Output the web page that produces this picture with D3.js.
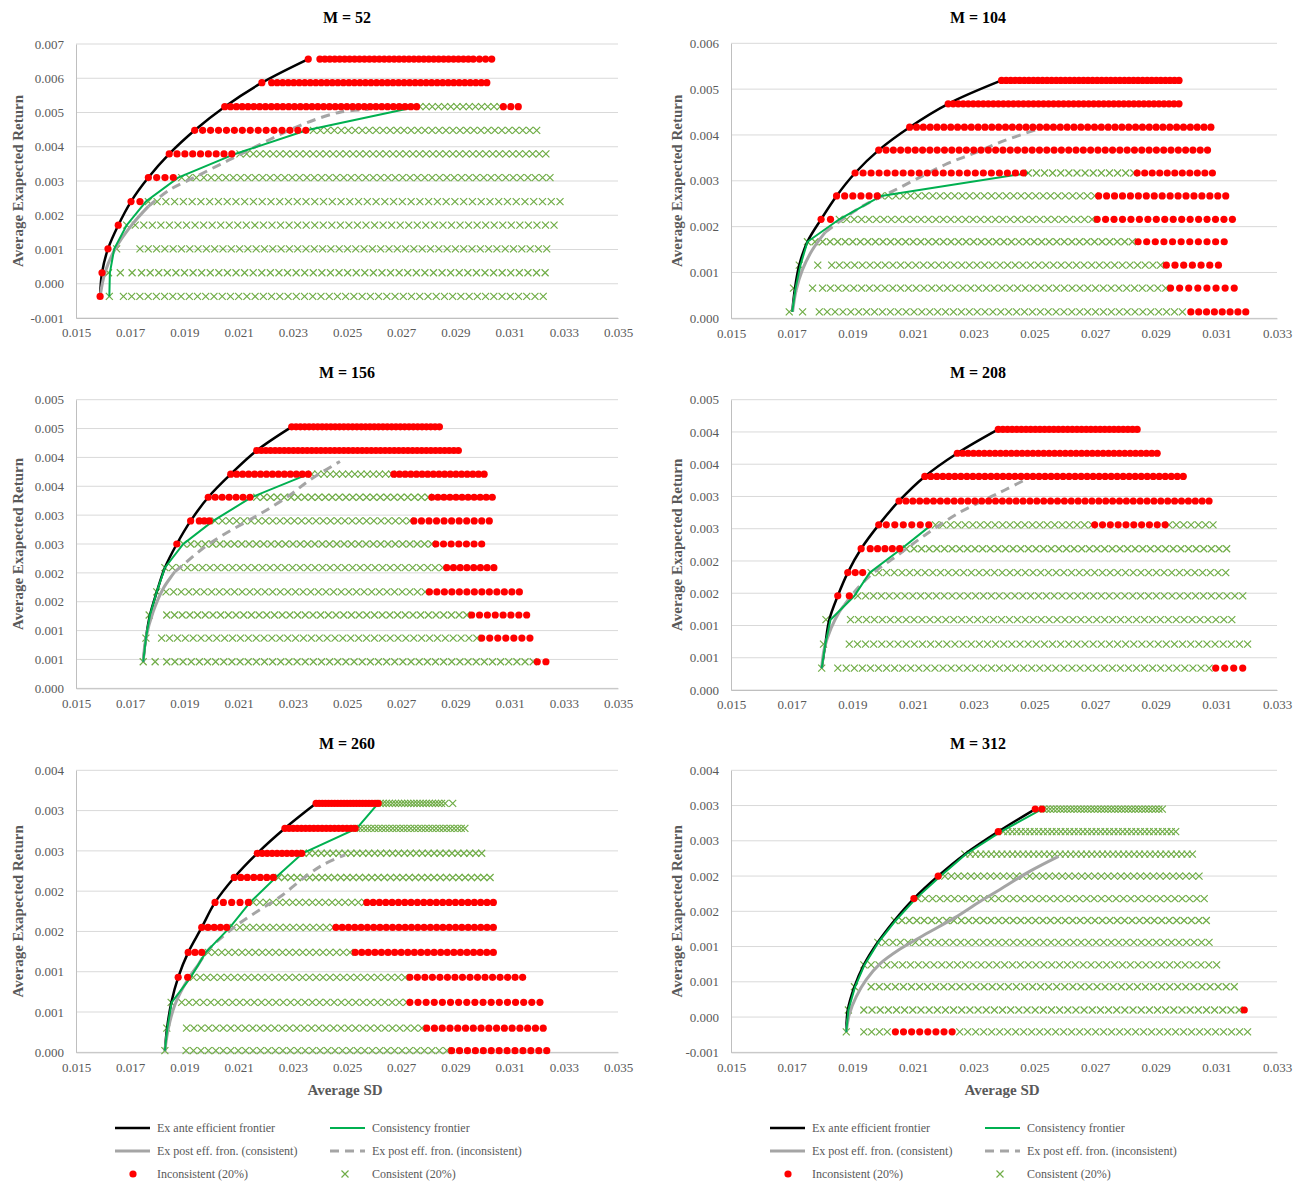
<!DOCTYPE html>
<html>
<head>
<meta charset="utf-8">
<script src="https://cdn.jsdelivr.net/npm/d3@7"></script>
<style>
  body { margin: 0; background: #fff; }
  svg text { font-family: "Liberation Serif", "Times New Roman", serif; }
</style>
</head>
<body>
<svg id="chart" width="1307" height="1184"></svg>
<script>
'use strict';

// ── Axis ticks ────────────────────────────────────────────
const xTicksWide   = [0.015, 0.017, 0.019, 0.021, 0.023, 0.025, 0.027, 0.029, 0.031, 0.033, 0.035];
const xTicksNarrow = [0.015, 0.017, 0.019, 0.021, 0.023, 0.025, 0.027, 0.029, 0.031, 0.033];

const yTicks52  = [-0.001, 0, 0.001, 0.002, 0.003, 0.004, 0.005, 0.006, 0.007];
const yLabels52 = ['-0.001', '0.000', '0.001', '0.002', '0.003', '0.004', '0.005', '0.006', '0.007'];
const yTicks104  = [0, 0.001, 0.002, 0.003, 0.004, 0.005, 0.006];
const yLabels104 = ['0.000', '0.001', '0.002', '0.003', '0.004', '0.005', '0.006'];
const yTicks156  = [0, 0.0005, 0.001, 0.0015, 0.002, 0.0025, 0.003, 0.0035, 0.004, 0.0045, 0.005];
const yLabels156 = ['0.000', '0.001', '0.001', '0.002', '0.002', '0.003', '0.003', '0.004', '0.004', '0.005', '0.005'];
const yTicks208  = [0, 0.0005, 0.001, 0.0015, 0.002, 0.0025, 0.003, 0.0035, 0.004, 0.0045];
const yLabels208 = ['0.000', '0.001', '0.001', '0.002', '0.002', '0.003', '0.003', '0.004', '0.004', '0.005'];
const yTicks260  = [0, 0.0005, 0.001, 0.0015, 0.002, 0.0025, 0.003, 0.0035];
const yLabels260 = ['0.000', '0.001', '0.001', '0.002', '0.002', '0.003', '0.003', '0.004'];
const yTicks312  = [-0.0005, 0, 0.0005, 0.001, 0.0015, 0.002, 0.0025, 0.003, 0.0035];
const yLabels312 = ['-0.001', '0.000', '0.001', '0.001', '0.002', '0.002', '0.003', '0.003', '0.004'];

// ── Portfolio rows: [return, [[type, sdFrom, sdTo, markerCount], ...]]
//    type 'i' = inconsistent (red dot), 'c' = consistent (green cross)
const rows52 = [
  [-0.00037, [['i', 0.01589, 0.01589, 1], ['c', 0.01623, 0.01623, 1], ['c', 0.01675, 0.03224, 52]]],
  [0.00032,  [['i', 0.01596, 0.01596, 1], ['c', 0.01620, 0.01707, 3], ['c', 0.01742, 0.03231, 48]]],
  [0.00102,  [['i', 0.01618, 0.01618, 1], ['c', 0.01650, 0.01650, 1], ['c', 0.01736, 0.03237, 50]]],
  [0.00171,  [['i', 0.01656, 0.01656, 1], ['c', 0.01687, 0.03264, 51]]],
  [0.00240,  [['i', 0.01703, 0.01736, 2], ['c', 0.01767, 0.03286, 48]]],
  [0.00310,  [['i', 0.01767, 0.01859, 4], ['c', 0.01890, 0.03249, 51]]],
  [0.00379,  [['i', 0.01844, 0.02075, 9], ['c', 0.02105, 0.03234, 47]]],
  [0.00448,  [['i', 0.01938, 0.02348, 15], ['c', 0.02376, 0.03200, 33]]],
  [0.00517,  [['i', 0.02049, 0.02757, 34], ['c', 0.02769, 0.03065, 14], ['i', 0.03077, 0.03132, 3]]],
  [0.00587,  [['i', 0.02186, 0.02186, 1], ['i', 0.02222, 0.03016, 40]]],
  [0.00656,  [['i', 0.02357, 0.02357, 1], ['i', 0.02400, 0.02948, 31], ['i', 0.02966, 0.03034, 4]]]
];
const rows104 = [
  [0.00014, [['c', 0.01692, 0.01736, 2], ['c', 0.01791, 0.02988, 47], ['i', 0.03016, 0.03197, 8]]],
  [0.00066, [['c', 0.01706, 0.01706, 1], ['c', 0.01769, 0.01769, 1], ['c', 0.01802, 0.02933, 45], ['i', 0.02949, 0.03159, 8]]],
  [0.00116, [['c', 0.01725, 0.01725, 1], ['c', 0.01786, 0.01786, 1], ['c', 0.01832, 0.02916, 44], ['i', 0.02935, 0.03107, 7]]],
  [0.00167, [['c', 0.01752, 0.02823, 44], ['i', 0.02842, 0.03126, 11]]],
  [0.00216, [['i', 0.01797, 0.01828, 2], ['c', 0.01857, 0.02690, 35], ['i', 0.02707, 0.03153, 17]]],
  [0.00267, [['i', 0.01848, 0.01982, 6], ['c', 0.01995, 0.02699, 30], ['i', 0.02712, 0.03131, 17]]],
  [0.00317, [['i', 0.01909, 0.02464, 22], ['c', 0.02480, 0.02828, 14], ['i', 0.02839, 0.03087, 11]]],
  [0.00367, [['i', 0.01987, 0.03071, 46]]],
  [0.00417, [['i', 0.02089, 0.03082, 45]]],
  [0.00468, [['i', 0.02216, 0.02977, 47]]],
  [0.00519, [['i', 0.02392, 0.02977, 40]]]
];
const rows156 = [
  [0.00046, [['c', 0.01748, 0.01792, 2], ['c', 0.01835, 0.03187, 46], ['i', 0.03202, 0.03234, 2]]],
  [0.00087, [['c', 0.01758, 0.01758, 1], ['c', 0.01816, 0.02979, 41], ['i', 0.02997, 0.03175, 7]]],
  [0.00127, [['c', 0.01770, 0.01770, 1], ['c', 0.01835, 0.02942, 40], ['i', 0.02960, 0.03163, 8]]],
  [0.00167, [['c', 0.01798, 0.01798, 1], ['c', 0.01832, 0.02788, 35], ['i', 0.02804, 0.03136, 13]]],
  [0.00209, [['c', 0.01828, 0.02853, 38], ['i', 0.02868, 0.03042, 8]]],
  [0.00250, [['i', 0.01872, 0.01872, 1], ['c', 0.01896, 0.02813, 35], ['i', 0.02828, 0.02997, 7]]],
  [0.00290, [['i', 0.01923, 0.01923, 1], ['i', 0.01955, 0.01992, 3], ['c', 0.02013, 0.02732, 28], ['i', 0.02747, 0.03025, 11]]],
  [0.00331, [['i', 0.01988, 0.02142, 7], ['c', 0.02167, 0.02800, 26], ['i', 0.02813, 0.03036, 11]]],
  [0.00371, [['i', 0.02071, 0.02357, 14], ['c', 0.02370, 0.02665, 14], ['i', 0.02673, 0.03006, 17]]],
  [0.00412, [['i', 0.02167, 0.02911, 45]]],
  [0.00453, [['i', 0.02296, 0.02841, 35]]]
];
const rows208 = [
  [0.00034, [['c', 0.01799, 0.01799, 1], ['c', 0.01852, 0.01852, 1], ['c', 0.01880, 0.03076, 46], ['i', 0.03098, 0.03187, 4]]],
  [0.00071, [['c', 0.01805, 0.01805, 1], ['c', 0.01890, 0.03203, 50]]],
  [0.00109, [['c', 0.01813, 0.01813, 1], ['c', 0.01894, 0.03151, 49]]],
  [0.00146, [['i', 0.01852, 0.01852, 1], ['i', 0.01890, 0.01890, 1], ['c', 0.01918, 0.03187, 50]]],
  [0.00182, [['i', 0.01885, 0.01934, 3], ['c', 0.01962, 0.03131, 47]]],
  [0.00219, [['i', 0.01929, 0.01929, 1], ['i', 0.01959, 0.02056, 5], ['c', 0.02078, 0.03134, 43]]],
  [0.00256, [['i', 0.01987, 0.01987, 1], ['i', 0.02012, 0.02152, 6], ['c', 0.02174, 0.02690, 22], ['i', 0.02699, 0.02931, 10], ['c', 0.02944, 0.03089, 7]]],
  [0.00293, [['i', 0.02054, 0.03076, 46]]],
  [0.00331, [['i', 0.02139, 0.02991, 44]]],
  [0.00367, [['i', 0.02246, 0.02905, 38]]],
  [0.00404, [['i', 0.02381, 0.02839, 31]]]
];
const rows260 = [
  [0.00002, [['c', 0.01828, 0.01828, 1], ['c', 0.01906, 0.02868, 36], ['i', 0.02886, 0.03237, 13]]],
  [0.00030, [['c', 0.01835, 0.01835, 1], ['c', 0.01908, 0.02776, 33], ['i', 0.02794, 0.03224, 16]]],
  [0.00062, [['c', 0.01851, 0.01851, 1], ['c', 0.01890, 0.02720, 32], ['i', 0.02732, 0.03212, 17]]],
  [0.00093, [['i', 0.01877, 0.01912, 2], ['c', 0.01933, 0.02714, 32], ['i', 0.02732, 0.03148, 16]]],
  [0.00124, [['i', 0.01914, 0.01964, 3], ['c', 0.01988, 0.02511, 22], ['i', 0.02530, 0.03040, 22]]],
  [0.00155, [['i', 0.01964, 0.02056, 5], ['c', 0.02080, 0.02449, 16], ['i', 0.02459, 0.03040, 26]]],
  [0.00186, [['i', 0.02013, 0.02136, 5], ['c', 0.02154, 0.02566, 18], ['i', 0.02573, 0.03040, 21]]],
  [0.00217, [['i', 0.02084, 0.02228, 7], ['c', 0.02247, 0.03028, 35]]],
  [0.00247, [['i', 0.02169, 0.02333, 10], ['c', 0.02339, 0.02997, 31]]],
  [0.00278, [['i', 0.02271, 0.02530, 18], ['c', 0.02536, 0.02935, 31]]],
  [0.00309, [['i', 0.02386, 0.02615, 21], ['c', 0.02622, 0.02849, 21], ['c', 0.02862, 0.02890, 2]]]
];
const rows312 = [
  [-0.00021, [['c', 0.01880, 0.01880, 1], ['c', 0.01938, 0.02015, 4], ['i', 0.02042, 0.02229, 8], ['c', 0.02254, 0.03203, 37]]],
  [0.00010,  [['c', 0.01887, 0.01887, 1], ['c', 0.01938, 0.03175, 47], ['i', 0.03192, 0.03192, 1]]],
  [0.00043,  [['c', 0.01907, 0.01907, 1], ['c', 0.01962, 0.03159, 46]]],
  [0.00074,  [['c', 0.01938, 0.01938, 1], ['c', 0.01962, 0.03101, 45]]],
  [0.00106,  [['c', 0.01984, 0.03076, 45]]],
  [0.00137,  [['c', 0.02039, 0.03067, 43]]],
  [0.00168,  [['i', 0.02103, 0.02103, 1], ['c', 0.02116, 0.03060, 40]]],
  [0.00200,  [['i', 0.02183, 0.02183, 1], ['c', 0.02205, 0.03043, 40]]],
  [0.00231,  [['c', 0.02271, 0.03021, 44]]],
  [0.00263,  [['i', 0.02381, 0.02381, 1], ['c', 0.02398, 0.02966, 40]]],
  [0.00295,  [['i', 0.02503, 0.02525, 2], ['c', 0.02530, 0.02922, 36]]]
];

// ── Frontiers: [sd, return] ───────────────────────────────
const exAnte52 = [[0.01589,-0.00037],[0.01596,0.00032],[0.01618,0.00102],[0.01656,0.00171],[0.01703,0.00240],[0.01767,0.00310],[0.01844,0.00379],[0.01938,0.00448],[0.02049,0.00517],[0.02186,0.00587],[0.02357,0.00656]];
const consist52 = [[0.01623,-0.00037],[0.01625,0.00032],[0.01641,0.00102],[0.01687,0.00171],[0.01758,0.00240],[0.01877,0.00310],[0.02087,0.00379],[0.02351,0.00448],[0.02757,0.00517]];
const postCons52 = [[0.01589,-0.00037],[0.01607,0.00033],[0.01644,0.00101],[0.01706,0.00172],[0.01767,0.00226]];
const postIncons52 = [[0.01767,0.00226],[0.01847,0.00275],[0.01933,0.00309],[0.02031,0.00348],[0.02130,0.00387],[0.02241,0.00431],[0.02351,0.00470],[0.02474,0.00501],[0.02579,0.00509]];

const exAnte104 = [[0.01702,0.00014],[0.01711,0.00066],[0.01725,0.00116],[0.01752,0.00167],[0.01797,0.00216],[0.01848,0.00267],[0.01909,0.00317],[0.01987,0.00367],[0.02089,0.00417],[0.02216,0.00468],[0.02392,0.00519]];
const consist104 = [[0.01702,0.00014],[0.01713,0.00066],[0.01729,0.00116],[0.01752,0.00167],[0.01857,0.00216],[0.01995,0.00267],[0.02480,0.00317]];
const postCons104 = [[0.01703,0.00014],[0.01715,0.00062],[0.01735,0.00105],[0.01768,0.00149],[0.01811,0.00188]];
const postIncons104 = [[0.01811,0.00188],[0.01874,0.00219],[0.01940,0.00247],[0.02023,0.00274],[0.02106,0.00302],[0.02205,0.00335],[0.02304,0.00361],[0.02403,0.00388],[0.02508,0.00412]];

const exAnte156 = [[0.01748,0.00046],[0.01758,0.00087],[0.01773,0.00127],[0.01798,0.00167],[0.01828,0.00209],[0.01872,0.00250],[0.01923,0.00290],[0.01988,0.00331],[0.02071,0.00371],[0.02167,0.00412],[0.02296,0.00453]];
const consist156 = [[0.01748,0.00046],[0.01758,0.00087],[0.01773,0.00127],[0.01798,0.00167],[0.01828,0.00209],[0.01896,0.00250],[0.02006,0.00290],[0.02148,0.00331],[0.02357,0.00371]];
const postCons156 = [[0.01748,0.00046],[0.01758,0.00087],[0.01785,0.00133],[0.01822,0.00173],[0.01865,0.00202]];
const postIncons156 = [[0.01865,0.00202],[0.01896,0.00214],[0.01970,0.00243],[0.02044,0.00266],[0.02130,0.00289],[0.02204,0.00309],[0.02290,0.00335],[0.02363,0.00361],[0.02474,0.00393]];

const exAnte208 = [[0.01799,0.00034],[0.01811,0.00071],[0.01824,0.00109],[0.01852,0.00146],[0.01885,0.00182],[0.01929,0.00219],[0.01987,0.00256],[0.02054,0.00293],[0.02139,0.00331],[0.02246,0.00367],[0.02381,0.00404]];
const consist208 = [[0.01799,0.00034],[0.01811,0.00071],[0.01828,0.00109],[0.01907,0.00146],[0.01957,0.00182],[0.02062,0.00219],[0.02161,0.00256]];
const postCons208 = [[0.01799,0.00034],[0.01808,0.00065],[0.01830,0.00096],[0.01857,0.00121],[0.01874,0.00132]];
const postIncons208 = [[0.01874,0.00132],[0.01918,0.00158],[0.01973,0.00183],[0.02050,0.00209],[0.02139,0.00240],[0.02249,0.00274],[0.02359,0.00300],[0.02403,0.00310],[0.02470,0.00326]];

const exAnte260 = [[0.01828,0.00002],[0.01836,0.00030],[0.01852,0.00062],[0.01877,0.00093],[0.01914,0.00124],[0.01964,0.00155],[0.02013,0.00186],[0.02084,0.00217],[0.02169,0.00247],[0.02271,0.00278],[0.02386,0.00309]];
const consist260 = [[0.01828,0.00002],[0.01837,0.00030],[0.01853,0.00062],[0.01923,0.00093],[0.01979,0.00124],[0.02068,0.00155],[0.02142,0.00186],[0.02237,0.00217],[0.02336,0.00247],[0.02536,0.00278],[0.02615,0.00309]];
const postCons260 = [[0.01828,0.00002],[0.01841,0.00030],[0.01865,0.00059],[0.01908,0.00088],[0.01950,0.00108]];
const postIncons260 = [[0.01950,0.00108],[0.01988,0.00127],[0.02050,0.00146],[0.02111,0.00162],[0.02179,0.00177],[0.02253,0.00193],[0.02339,0.00216],[0.02413,0.00233],[0.02493,0.00245]];

const exAnte312 = [[0.01880,-0.00021],[0.01885,0.00010],[0.01907,0.00043],[0.01938,0.00074],[0.01984,0.00106],[0.02039,0.00137],[0.02103,0.00168],[0.02183,0.00200],[0.02271,0.00231],[0.02381,0.00263],[0.02503,0.00295]];
const consist312 = [[0.01880,-0.00021],[0.01887,0.00010],[0.01909,0.00043],[0.01940,0.00074],[0.01986,0.00106],[0.02043,0.00137],[0.02109,0.00168],[0.02191,0.00200],[0.02274,0.00231],[0.02390,0.00263],[0.02525,0.00295]];
const postCons312 = [[0.01880,-0.00021],[0.01890,0.00004],[0.01913,0.00029],[0.01946,0.00053],[0.01990,0.00075],[0.02056,0.00096],[0.02139,0.00117],[0.02238,0.00141],[0.02321,0.00164],[0.02387,0.00181],[0.02486,0.00207],[0.02580,0.00228]];
const postIncons312 = [];

// ── Colours ───────────────────────────────────────────────
const C = {
  red: '#ff0000', cross: '#70ad47', black: '#000000',
  green: '#00b050', grey: '#a5a5a5', grid: '#d9d9d9',
  axis: '#bfbfbf', label: '#595959'
};

// ── Panel layout ──────────────────────────────────────────
const LEFT  = { px: [76, 618],  ticks: xTicksWide,   titleX: 347, yTitleX: 18 };
const RIGHT = { px: [731, 1277], ticks: xTicksNarrow, titleX: 978, yTitleX: 677 };

const panels = [
  { col: LEFT,  title: 'M = 52',  py: [318, 44],     titleY: 17,  rows: rows52,  exAnte: exAnte52,  consist: consist52,  post: postCons52,  postD: postIncons52,  yTicks: yTicks52,  yLabels: yLabels52 },
  { col: RIGHT, title: 'M = 104', py: [318.3, 43.3], titleY: 17,  rows: rows104, exAnte: exAnte104, consist: consist104, post: postCons104, postD: postIncons104, yTicks: yTicks104, yLabels: yLabels104 },
  { col: LEFT,  title: 'M = 156', py: [688.3, 399.7], titleY: 372, rows: rows156, exAnte: exAnte156, consist: consist156, post: postCons156, postD: postIncons156, yTicks: yTicks156, yLabels: yLabels156 },
  { col: RIGHT, title: 'M = 208', py: [690, 399.7],   titleY: 372, rows: rows208, exAnte: exAnte208, consist: consist208, post: postCons208, postD: postIncons208, yTicks: yTicks208, yLabels: yLabels208 },
  { col: LEFT,  title: 'M = 260', py: [1052.3, 770.3], titleY: 743, rows: rows260, exAnte: exAnte260, consist: consist260, post: postCons260, postD: postIncons260, yTicks: yTicks260, yLabels: yLabels260, xTitle: true },
  { col: RIGHT, title: 'M = 312', py: [1052.3, 770.3], titleY: 743, rows: rows312, exAnte: exAnte312, consist: consist312, post: postCons312, postD: postIncons312, yTicks: yTicks312, yLabels: yLabels312, xTitle: true }
];

const svg = d3.select('#chart');
const crossPath = 'M-3.5,-3.5L3.5,3.5M-3.5,3.5L3.5,-3.5';

panels.forEach(p => {
  const xt = p.col.ticks;
  const x = d3.scaleLinear().domain([xt[0], xt[xt.length - 1]]).range(p.col.px);
  const y = d3.scaleLinear().domain([p.yTicks[0], p.yTicks[p.yTicks.length - 1]]).range(p.py);
  const g = svg.append('g');

  // Grid lines
  g.selectAll('line.grid').data(p.yTicks).join('line')
    .attr('class', 'grid')
    .attr('x1', p.col.px[0]).attr('x2', p.col.px[1])
    .attr('y1', d => y(d)).attr('y2', d => y(d))
    .attr('stroke', C.grid).attr('stroke-width', 1);

  // Axes
  const ax = g.append('g')
    .attr('transform', `translate(0,${p.py[0]})`)
    .call(d3.axisBottom(x).tickValues(xt).tickFormat(d3.format('.3f')).tickSize(0).tickSizeOuter(0).tickPadding(10));
  const ay = g.append('g')
    .attr('transform', `translate(${p.col.px[0]},0)`)
    .call(d3.axisLeft(y).tickValues(p.yTicks).tickFormat((d, i) => p.yLabels[i]).tickSize(0).tickSizeOuter(0).tickPadding(12));
  [ax, ay].forEach(a => {
    a.attr('font-family', null).attr('font-size', null);
    a.select('.domain').attr('stroke', C.axis);
    a.selectAll('text').attr('fill', C.label).style('font-size', '13px');
  });

  // Titles
  g.append('text')
    .attr('x', p.col.titleX).attr('y', p.titleY)
    .attr('text-anchor', 'middle').attr('dominant-baseline', 'central')
    .style('font-size', '16px').style('font-weight', 700).attr('fill', '#000')
    .text(p.title);

  const midY = (p.py[0] + p.py[1]) / 2;
  g.append('text')
    .attr('transform', `translate(${p.col.yTitleX},${midY}) rotate(-90)`)
    .attr('text-anchor', 'middle').attr('dominant-baseline', 'central')
    .style('font-size', '15px').style('font-weight', 700).attr('fill', C.label)
    .text('Average Exapected Return');

  if (p.xTitle) {
    g.append('text')
      .attr('x', (p.col.px[0] + p.col.px[1]) / 2 - 2).attr('y', 1090)
      .attr('text-anchor', 'middle').attr('dominant-baseline', 'central')
      .style('font-size', '15px').style('font-weight', 700).attr('fill', C.label)
      .text('Average SD');
  }

  // Expand rows to markers
  const pts = [];
  p.rows.forEach(([ret, segs]) => {
    segs.forEach(([type, s0, s1, n]) => {
      for (let k = 0; k < n; k++) {
        pts.push({ type, ret, sd: n === 1 ? s0 : s0 + (s1 - s0) * k / (n - 1) });
      }
    });
  });

  // Consistent crosses (underneath)
  g.selectAll('path.cross').data(pts.filter(d => d.type === 'c')).join('path')
    .attr('class', 'cross')
    .attr('d', crossPath)
    .attr('transform', d => `translate(${x(d.sd)},${y(d.ret)})`)
    .attr('fill', 'none').attr('stroke', C.cross).attr('stroke-width', 1.2);

  // Frontier lines
  const smooth = d3.line().x(d => x(d[0])).y(d => y(d[1])).curve(d3.curveCatmullRom);
  const straight = d3.line().x(d => x(d[0])).y(d => y(d[1]));

  g.append('path').attr('d', smooth(p.exAnte))
    .attr('fill', 'none').attr('stroke', C.black).attr('stroke-width', 2.5);
  g.append('path').attr('d', smooth(p.post))
    .attr('fill', 'none').attr('stroke', C.grey).attr('stroke-width', 3);
  if (p.postD.length) {
    g.append('path').attr('d', smooth(p.postD))
      .attr('fill', 'none').attr('stroke', C.grey).attr('stroke-width', 3)
      .attr('stroke-dasharray', '9,6');
  }
  g.append('path').attr('d', straight(p.consist))
    .attr('fill', 'none').attr('stroke', C.green).attr('stroke-width', 2);

  // Inconsistent dots (on top)
  g.selectAll('circle.dot').data(pts.filter(d => d.type === 'i')).join('circle')
    .attr('class', 'dot')
    .attr('cx', d => x(d.sd)).attr('cy', d => y(d.ret))
    .attr('r', 3.6).attr('fill', C.red);
});

// ── Legends ───────────────────────────────────────────────
const legendItems = [
  { label: 'Ex ante efficient frontier',       kind: 'line', color: C.black, w: 2.5, col: 0, row: 0 },
  { label: 'Consistency frontier',             kind: 'line', color: C.green, w: 2,   col: 1, row: 0 },
  { label: 'Ex post eff. fron. (consistent)',  kind: 'line', color: C.grey,  w: 3,   col: 0, row: 1 },
  { label: 'Ex post eff. fron. (inconsistent)', kind: 'line', color: C.grey, w: 3,   col: 1, row: 1, dash: '9,6' },
  { label: 'Inconsistent (20%)',               kind: 'dot',   col: 0, row: 2 },
  { label: 'Consistent (20%)',                 kind: 'cross', col: 1, row: 2 }
];
const legendX = [115, 770];
const legendRowY = [1128, 1151, 1174];
const colOffset = [0, 215];

legendX.forEach(lx => {
  const lg = svg.append('g');
  legendItems.forEach(it => {
    const x0 = lx + colOffset[it.col];
    const yy = legendRowY[it.row];
    if (it.kind === 'line') {
      lg.append('line').attr('x1', x0).attr('x2', x0 + 35).attr('y1', yy).attr('y2', yy)
        .attr('stroke', it.color).attr('stroke-width', it.w)
        .attr('stroke-dasharray', it.dash || null);
    } else if (it.kind === 'dot') {
      lg.append('circle').attr('cx', x0 + 18).attr('cy', yy).attr('r', 3.6).attr('fill', C.red);
    } else {
      lg.append('path').attr('d', crossPath).attr('transform', `translate(${x0 + 15},${yy})`)
        .attr('fill', 'none').attr('stroke', C.cross).attr('stroke-width', 1.2);
    }
    lg.append('text').attr('x', x0 + 42).attr('y', yy)
      .attr('dominant-baseline', 'central')
      .style('font-size', '12px').attr('fill', C.label)
      .text(it.label);
  });
});
</script>
</body>
</html>
